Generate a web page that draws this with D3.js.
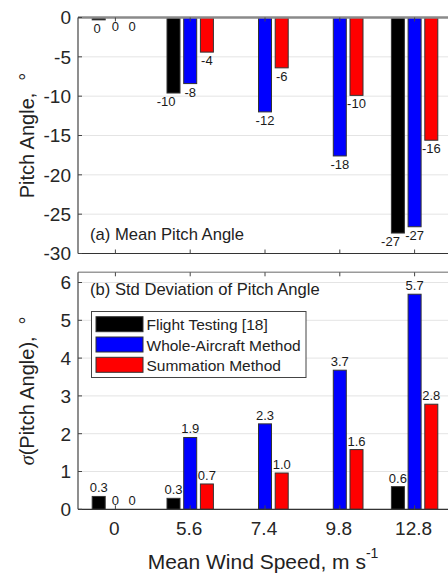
<!DOCTYPE html>
<html>
<head>
<meta charset="utf-8">
<script src="https://cdn.jsdelivr.net/npm/d3@7"></script>
<style>
  html, body { margin: 0; padding: 0; background: #fff; }
  svg { display: block; font-family: Arial, "Liberation Sans", sans-serif; }
</style>
</head>
<body>
<svg id="chart" width="448" height="576"></svg>
<script>
// Wind speed groups (m/s)
const categories = ["0", "5.6", "7.4", "9.8", "12.8"];
const seriesNames = ["Flight Testing [18]", "Whole-Aircraft Method", "Summation Method"];
const seriesColors = ["#000000", "#0000ff", "#ff0000"];

// (a) mean pitch angle, degrees (null = not measured)
const meanFlight = [-0.3, -9.6, null, null, -27.4];
const meanWhole = [0, -8.4, -12.0, -17.6, -26.6];
const meanSum = [0, -4.4, -6.4, -9.9, -15.6];

// (b) standard deviation of pitch angle, degrees
const stdFlight = [0.34, 0.29, null, null, 0.6];
const stdWhole = [0, 1.9, 2.26, 3.68, 5.69];
const stdSum = [0, 0.67, 0.96, 1.58, 2.78];

const meanTicks = [-30, -25, -20, -15, -10, -5, 0];
const stdTicks = [0, 1, 2, 3, 4, 5, 6];

const svg = d3.select("#chart");
const left = 78, right = 452;

const x = d3.scaleBand().domain(categories).range([left, right]).padding(0);
const xs = d3.scalePoint().domain(seriesNames).range([-16.7, 16.7]);
const barW = 13;

const yA = d3.scaleLinear().domain([-30, 0]).range([253.5, 17.5]);
const yB = d3.scaleLinear().domain([0, 6.27]).range([509.3, 272.3]);

function rows(a, b, c) {
  const out = [];
  categories.forEach((cat, i) => {
    [a, b, c].forEach((arr, s) => out.push({ cat, s, name: seriesNames[s], v: arr[i] }));
  });
  return out;
}

function panel(y, ticks, data, opts) {
  const g = svg.append("g");
  const [y0, y1] = y.range();

  // gridlines
  g.selectAll("line.grid").data(ticks).join("line")
    .attr("x1", left).attr("x2", right)
    .attr("y1", d => y(d)).attr("y2", d => y(d))
    .attr("stroke", "#e4e4e4").attr("stroke-width", 1);

  // bars
  g.selectAll("rect.bar").data(data).join("rect")
    .attr("x", d => x(d.cat) + x.bandwidth() / 2 + xs(d.name) - barW / 2)
    .attr("width", barW)
    .attr("y", d => Math.min(y(0), y(d.v == null ? 0 : d.v)))
    .attr("height", d => Math.abs(y(d.v == null ? 0 : d.v) - y(0)))
    .attr("fill", d => seriesColors[d.s])
    .attr("stroke", "#333").attr("stroke-width", 1);

  // frame
  g.append("line").attr("x1", left).attr("x2", right).attr("y1", y1).attr("y2", y1)
    .attr("stroke", opts.topColor).attr("stroke-width", opts.topWidth);
  g.append("line").attr("x1", left).attr("x2", right).attr("y1", y0).attr("y2", y0)
    .attr("stroke", "#333").attr("stroke-width", 1.2);
  g.append("line").attr("x1", left).attr("x2", left).attr("y1", y0).attr("y2", y1)
    .attr("stroke", "#444").attr("stroke-width", 1.2);
  g.append("line").attr("x1", right).attr("x2", right).attr("y1", y0).attr("y2", y1)
    .attr("stroke", "#444").attr("stroke-width", 1.2);

  // inward ticks
  const tl = 4;
  g.selectAll("line.yt").data(ticks).join("line")
    .attr("x1", left).attr("x2", left + tl).attr("y1", d => y(d)).attr("y2", d => y(d))
    .attr("stroke", "#444");
  g.selectAll("line.yt2").data(ticks).join("line")
    .attr("x1", right - tl).attr("x2", right).attr("y1", d => y(d)).attr("y2", d => y(d))
    .attr("stroke", "#444");
  g.selectAll("line.xt").data(categories).join("line")
    .attr("x1", d => x(d) + x.bandwidth() / 2).attr("x2", d => x(d) + x.bandwidth() / 2)
    .attr("y1", y0).attr("y2", y0 - tl).attr("stroke", "#444");
  g.selectAll("line.xt2").data(categories).join("line")
    .attr("x1", d => x(d) + x.bandwidth() / 2).attr("x2", d => x(d) + x.bandwidth() / 2)
    .attr("y1", y1).attr("y2", y1 + tl).attr("stroke", "#444");

  // y tick labels
  g.selectAll("text.yl").data(ticks).join("text")
    .attr("x", 71).attr("y", d => y(d)).attr("dy", "0.36em")
    .attr("text-anchor", "end").attr("font-size", 19).attr("fill", "#262626")
    .text(d => String(d));

  // value labels
  const labeled = data.filter(d => d.v != null);
  g.selectAll("text.val").data(labeled).join("text")
    .attr("x", d => {
      const cx = x(d.cat) + x.bandwidth() / 2 + xs(d.name);
      return opts.anchorFor(d) === "end" ? cx + 2 : cx;
    })
    .attr("y", d => opts.below ? y(d.v) + 13 : y(d.v) - 4)
    .attr("text-anchor", d => opts.anchorFor(d))
    .attr("font-size", 13).attr("fill", "#1a1a1a")
    .text(d => opts.fmt(d.v));

  // panel caption
  g.append("text").attr("x", 90).attr("y", opts.captionY)
    .attr("font-size", 16.6).attr("fill", "#222").text(opts.caption);

  // y-axis title
  const t = g.append("text")
    .attr("transform", `translate(34,${(y0 + y1) / 2}) rotate(-90)`)
    .attr("text-anchor", "middle").attr("font-size", 20).attr("fill", "#222");
  opts.title(t);
  return g;
}

panel(yA, meanTicks, rows(meanFlight, meanWhole, meanSum), {
  below: true,
  topColor: "#8a8a8a", topWidth: 2.5,
  anchorFor: d => (d.s === 0 ? "end" : "middle"),
  fmt: v => String(Math.round(v)),
  caption: "(a) Mean Pitch Angle", captionY: 240,
  title: t => {
    t.append("tspan").text("Pitch Angle,");
    t.append("tspan").attr("dx", 12).text("°");
  }
});

panel(yB, stdTicks, rows(stdFlight, stdWhole, stdSum), {
  below: false,
  topColor: "#9a9a9a", topWidth: 1.5,
  anchorFor: () => "middle",
  fmt: v => (v === 0 ? "0" : v.toFixed(1)),
  caption: "(b) Std Deviation of Pitch Angle", captionY: 295,
  title: t => {
    t.append("tspan").attr("font-family", "'Liberation Serif', 'DejaVu Serif', serif")
      .attr("font-style", "italic").text("σ");
    t.append("tspan").text("(Pitch Angle),");
    t.append("tspan").attr("dx", 12).text("°");
  }
});

// category labels under panel (b)
svg.selectAll("text.cat").data(categories).join("text")
  .attr("x", d => x(d) + x.bandwidth() / 2 - 1).attr("y", 535)
  .attr("text-anchor", "middle").attr("font-size", 19).attr("fill", "#262626")
  .text(d => d);

// x-axis title
const xt = svg.append("text").attr("x", 263).attr("y", 569)
  .attr("text-anchor", "middle").attr("font-size", 21).attr("fill", "#222");
xt.append("tspan").text("Mean Wind Speed, m s");
xt.append("tspan").attr("font-size", 14).attr("dy", -11).text("-1");

// legend
const lg = svg.append("g");
lg.append("rect").attr("x", 91.5).attr("y", 311.5).attr("width", 214.5).attr("height", 66)
  .attr("fill", "#fff").attr("stroke", "#444").attr("stroke-width", 1);
const ly = d3.scalePoint().domain(seriesNames).range([324.2, 364.8]);
lg.selectAll("rect.sw").data(seriesNames).join("rect")
  .attr("x", 96).attr("y", d => ly(d) - 7.5).attr("width", 47).attr("height", 15)
  .attr("fill", (d, i) => seriesColors[i]).attr("stroke", "#333");
lg.selectAll("text.lt").data(seriesNames).join("text")
  .attr("x", 146.5).attr("y", d => ly(d) + 6)
  .attr("font-size", 15.5).attr("fill", "#222")
  .text(d => d);
</script>
</body>
</html>
